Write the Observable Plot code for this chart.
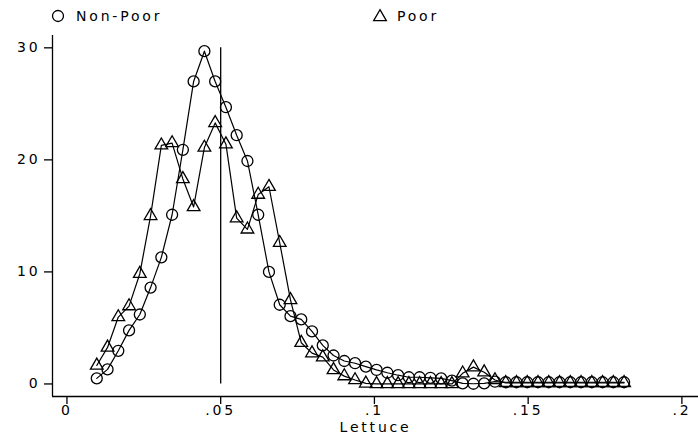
<!DOCTYPE html>
<html>
<head>
<meta charset="utf-8">
<script src="https://cdn.jsdelivr.net/npm/d3@7"></script>
<script src="https://cdn.jsdelivr.net/npm/@observablehq/plot@0.6"></script>
<style>
  body { margin: 0; background: #fff; font-family: "DejaVu Sans", sans-serif; }
  #legend { width: 698px; height: 30px; }
  #legend svg, #chart svg { display: block; }
  svg text { letter-spacing: 2.8px; }
</style>
</head>
<body>
<div id="legend"></div>
<div id="chart"></div>
<script>
// ---- data ----
const xs = [0.0097, 0.0132, 0.0167, 0.0202, 0.0237, 0.0272, 0.0307, 0.0342, 0.0377, 0.0412,
            0.0447, 0.0482, 0.0517, 0.0552, 0.0587, 0.0622, 0.0657, 0.0692, 0.0727, 0.0762,
            0.0797, 0.0832, 0.0867, 0.0902, 0.0937, 0.0972, 0.1007, 0.1042, 0.1077, 0.1112,
            0.1147, 0.1182, 0.1217, 0.1252, 0.1287, 0.1322, 0.1357, 0.1392, 0.1427, 0.1462,
            0.1497, 0.1532, 0.1567, 0.1602, 0.1637, 0.1672, 0.1707, 0.1742, 0.1777, 0.1812];
const nonPoor = [0.5, 1.3, 2.96, 4.78, 6.2, 8.6, 11.3, 15.1, 20.9, 27.0,
                 29.7, 27.0, 24.7, 22.2, 19.9, 15.1, 10.0, 7.07, 6.05, 5.76,
                 4.69, 3.44, 2.54, 2.05, 1.85, 1.55, 1.25, 1.0, 0.78, 0.6,
                 0.6, 0.55, 0.5, 0.3, 0.05, 0.02, 0.05, 0.2, 0.15, 0.15,
                 0.15, 0.15, 0.15, 0.15, 0.15, 0.15, 0.15, 0.15, 0.15, 0.15];
const poor = [1.65, 3.26, 5.97, 6.95, 9.84, 15.0, 21.3, 21.5, 18.3, 15.8,
              21.1, 23.3, 21.4, 14.8, 13.8, 16.9, 17.6, 12.6, 7.5, 3.68,
              2.75, 2.39, 1.25, 0.7, 0.35, 0.05, 0, 0, 0, 0,
              0, 0, 0, 0, 0.95, 1.5, 1.05, 0.35, 0.1, 0.1,
              0.1, 0.1, 0.1, 0.1, 0.1, 0.1, 0.1, 0.1, 0.1, 0.1];
const seriesNames = ["Non-Poor", "Poor"];
const xTicks = [0, 0.05, 0.1, 0.15, 0.2];
const xTickLabels = ["0", ".05", ".1", ".15", ".2"];
const yTicks = [0, 10, 20, 30];
const xLabel = "Lettuce";
const refLine = [{x: 0.05, y1: 0, y2: 30}];
const xDomain = [-0.0047, 0.2054];
const yDomain = [-1.12, 31.1];

const npData = xs.map((x, i) => ({x, y: nonPoor[i]}));
const pData = xs.map((x, i) => ({x, y: poor[i]}));

// ---- legend ----
const rC = 5.5, rT = 4.7;
const leg = d3.select("#legend").append("svg").attr("width", 698).attr("height", 30)
  .style("font-family", "DejaVu Sans").style("font-size", "14px");
leg.append("circle").attr("cx", 58).attr("cy", 16).attr("r", rC)
  .attr("fill", "none").attr("stroke", "black").attr("stroke-width", 1.3);
leg.append("text").attr("x", 76).attr("y", 21).text(seriesNames[0]);
leg.append("path").attr("d", d3.symbol(d3.symbolTriangle, Math.PI * rT * rT)())
  .attr("transform", "translate(380,17)")
  .attr("fill", "none").attr("stroke", "black").attr("stroke-width", 1.3);
leg.append("text").attr("x", 397).attr("y", 21).text(seriesNames[1]);

// ---- chart ----
const chart = Plot.plot({
  width: 698,
  height: 404,
  marginLeft: 52,
  marginRight: 0,
  marginTop: 5,
  marginBottom: 38,
  x: {domain: xDomain},
  y: {domain: yDomain},
  style: {fontFamily: "DejaVu Sans", fontSize: "14px", color: "black", background: "white"},
  marks: [
    Plot.axisX(xTicks, {
      tickSize: 8, tickPadding: 1, strokeWidth: 1.3,
      tickFormat: d => xTickLabels[xTicks.indexOf(d)],
      label: xLabel, labelAnchor: "center", labelArrow: "none", labelOffset: 35
    }),
    Plot.axisY(yTicks, {tickSize: 8, tickPadding: 4, strokeWidth: 1.3, label: null}),
    Plot.ruleX([xDomain[0]], {stroke: "black", strokeWidth: 1.3}),
    Plot.ruleY([yDomain[0]], {stroke: "black", strokeWidth: 1.3}),
    Plot.ruleX(refLine, {x: "x", y1: "y1", y2: "y2", stroke: "black", strokeWidth: 1.3}),
    Plot.line(npData, {x: "x", y: "y", stroke: "black", strokeWidth: 1.2}),
    Plot.dot(npData, {x: "x", y: "y", symbol: "circle", r: rC, fill: "none", stroke: "black", strokeWidth: 1.3}),
    Plot.line(pData, {x: "x", y: "y", stroke: "black", strokeWidth: 1.2}),
    Plot.dot(pData, {x: "x", y: "y", symbol: "triangle", r: rT, fill: "none", stroke: "black", strokeWidth: 1.3})
  ]
});
document.getElementById("chart").appendChild(chart);
</script>
</body>
</html>
